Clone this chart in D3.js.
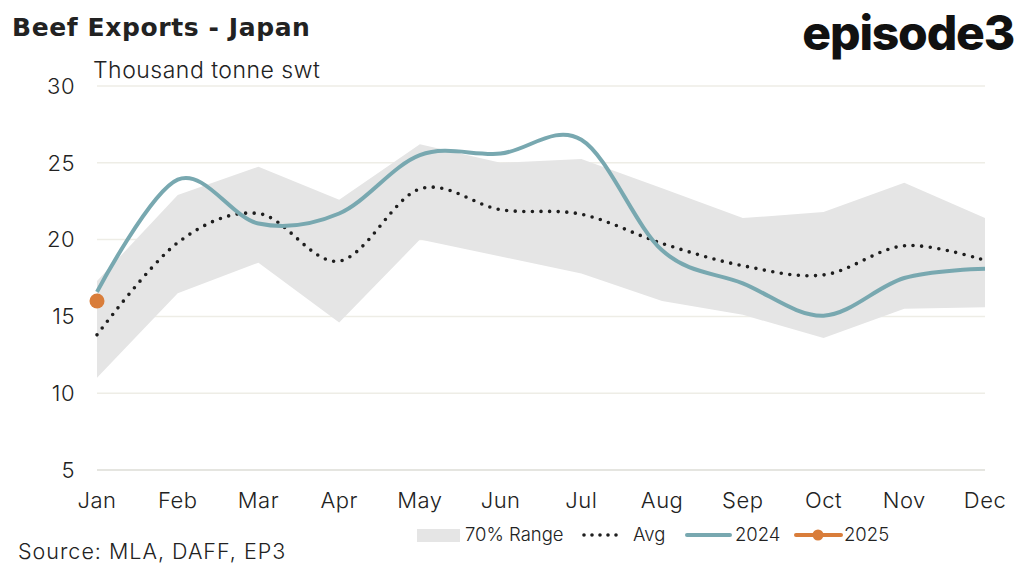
<!DOCTYPE html>
<html>
<head>
<meta charset="utf-8">
<script src="https://cdn.jsdelivr.net/npm/d3@7"></script>
<style>
  body { margin: 0; background: #fff; }
  text { font-family: "Inter", "Noto Sans", sans-serif; fill: #222; font-weight: 300; }
  .tick { font-size: 22px; letter-spacing: 0.5px; }
  .leg { font-size: 18.5px; }
</style>
</head>
<body>
<div id="chart"></div>
<script>
// data
var months = ["Jan","Feb","Mar","Apr","May","Jun","Jul","Aug","Sep","Oct","Nov","Dec"]
var rangeHigh = [17.3,22.9,24.75,22.6,26.2,25.0,25.25,23.35,21.4,21.8,23.7,21.4]
var rangeLow = [11.0,16.5,18.5,14.6,20.0,18.9,17.8,16.0,15.1,13.6,15.5,15.6]
var avg = [13.8,19.8,21.7,18.6,23.3,21.95,21.65,19.75,18.3,17.7,19.6,18.65]
var y2024 = [16.6,23.9,21.05,21.7,25.5,25.6,26.5,19.3,17.15,15.05,17.5,18.1]
var y2025 = [16.0]
var yTicks = [5,10,15,20,25,30]

var svgW = 1024, svgH = 568
var svg = d3.select('#chart').append('svg')
    .attr('width', svgW)
    .attr('height', svgH)

var xscale = d3.scalePoint().domain(months).range([97, 985])
var yscale = d3.scaleLinear().domain([5, 30]).range([470, 86])

// gridlines
svg.append('g').selectAll('line')
    .data(yTicks)
    .join('line')
    .attr('x1', 97).attr('x2', 985)
    .attr('y1', d => yscale(d)).attr('y2', d => yscale(d))
    .attr('stroke', d => d == 5 ? '#dcdcd6' : '#eeede6')
    .attr('stroke-width', 1.5)

// y labels
svg.append('g').selectAll('text')
    .data(yTicks)
    .join('text')
    .attr('class', 'tick')
    .attr('x', 75).attr('y', d => yscale(d))
    .attr('dy', '0.35em')
    .attr('text-anchor', 'end')
    .text(d => d)

// x labels
svg.append('g').selectAll('text')
    .data(months)
    .join('text')
    .attr('class', 'tick')
    .attr('x', d => xscale(d)).attr('y', 500)
    .attr('dy', '0.35em')
    .attr('text-anchor', 'middle')
    .text(d => d)

// range band
var area = d3.area()
    .x((d, i) => xscale(months[i]))
    .y0((d, i) => yscale(rangeLow[i]))
    .y1(d => yscale(d))
svg.append('path')
    .datum(rangeHigh)
    .attr('d', area)
    .attr('fill', '#e5e5e5')

var line = d3.line()
    .x((d, i) => xscale(months[i]))
    .y(d => yscale(d))
    .curve(d3.curveCardinal.tension(0))

svg.append('path')
    .datum(avg)
    .attr('d', line)
    .attr('fill', 'none')
    .attr('stroke', '#1e1e1e')
    .attr('stroke-width', 3.6)
    .attr('stroke-linecap', 'round')
    .attr('stroke-dasharray', '0 8.6')

svg.append('path')
    .datum(y2024)
    .attr('d', line)
    .attr('fill', 'none')
    .attr('stroke', '#78a8b0')
    .attr('stroke-width', 4)

svg.append('g').selectAll('circle')
    .data(y2025)
    .join('circle')
    .attr('cx', (d, i) => xscale(months[i]))
    .attr('cy', d => yscale(d))
    .attr('r', 7.5)
    .attr('fill', '#d97d3a')

// titles
svg.append('text')
    .attr('x', 12).attr('y', 36)
    .attr('font-size', 25)
    .attr('letter-spacing', 0.6)
    .style('font-weight', 700)
    .style('font-family', '"DejaVu Sans", sans-serif')
    .text('Beef Exports - Japan')
svg.append('text')
    .attr('x', 93).attr('y', 78)
    .attr('font-size', 23).attr('letter-spacing', 0.5)
    .text('Thousand tonne swt')
svg.append('text')
    .attr('x', 1014).attr('y', 50)
    .attr('text-anchor', 'end')
    .attr('font-size', 48)
    .attr('letter-spacing', -1.2)
    .style('font-weight', 800)
    .style('fill', '#111')
    .text('episode3')
svg.append('text')
    .attr('x', 18).attr('y', 551)
    .attr('dy', '0.35em')
    .attr('font-size', 21.5).attr('letter-spacing', 1)
    .text('Source: MLA, DAFF, EP3')

// legend
var lg = svg.append('g')
var ly = 535
lg.append('rect').attr('x', 417).attr('y', 529).attr('width', 43).attr('height', 13).attr('fill', '#e5e5e5')
lg.append('text').attr('class', 'leg').attr('x', 465).attr('y', ly).attr('dy', '0.35em').text('70% Range')
lg.append('line').attr('x1', 584).attr('x2', 624).attr('y1', ly).attr('y2', ly)
    .attr('stroke', '#1e1e1e').attr('stroke-width', 3.6).attr('stroke-linecap', 'round').attr('stroke-dasharray', '0 8')
lg.append('text').attr('class', 'leg').attr('x', 633).attr('y', ly).attr('dy', '0.35em').text('Avg')
lg.append('line').attr('x1', 687).attr('x2', 730).attr('y1', ly).attr('y2', ly)
    .attr('stroke', '#78a8b0').attr('stroke-width', 4).attr('stroke-linecap', 'round')
lg.append('text').attr('class', 'leg').attr('x', 735).attr('y', ly).attr('dy', '0.35em').text('2024')
lg.append('line').attr('x1', 796).attr('x2', 841).attr('y1', ly).attr('y2', ly)
    .attr('stroke', '#d97d3a').attr('stroke-width', 4).attr('stroke-linecap', 'round')
lg.append('circle').attr('cx', 818).attr('cy', ly).attr('r', 5.5).attr('fill', '#d97d3a')
lg.append('text').attr('class', 'leg').attr('x', 844).attr('y', ly).attr('dy', '0.35em').text('2025')
</script>
</body>
</html>
